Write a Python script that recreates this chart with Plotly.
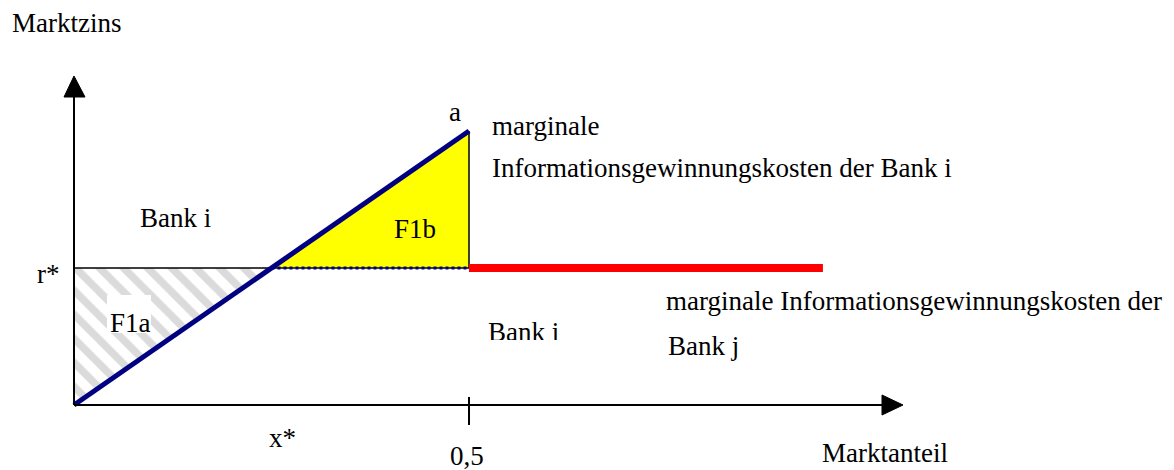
import plotly.graph_objects as go

# ---- model values (economic diagram) ----
x_star = 0.25          # x*
x_half = 0.5           # 0,5
x_red_end = 0.948      # end of the flat red cost line
r_star = 1.0           # r*
a_val = 2.0            # a

# blue line: marginal info cost bank i
blue_x = [0.0, x_half]
blue_y = [0.0, a_val]
# red line: marginal info cost bank j
red_x = [x_half, x_red_end]
red_y = [r_star, r_star]
# areas
f1a_x = [0.0, 0.0, x_star, 0.0]
f1a_y = [0.0, r_star, r_star, 0.0]
f1b_x = [x_star, x_half, x_half, x_star]
f1b_y = [r_star, a_val, r_star, r_star]

W, H = 1174, 470
OX, OY = 74, 405          # pixel of origin
SX, SY = 790, 137         # pixels per unit


def dx(px):
    return (px - OX) / SX


def dy(py):
    return (OY - py) / SY


SERIF = "Liberation Serif"
FS = 27

fig = go.Figure()

# hatched area F1a
fig.add_trace(go.Scatter(
    x=f1a_x, y=f1a_y, mode="lines", fill="toself",
    fillcolor="white", line=dict(width=0),
    fillpattern=dict(shape="\\", fgcolor="#b8b8b8", bgcolor="white",
                     size=17, solidity=0.45),
    hoverinfo="skip"))

# yellow area F1b
fig.add_trace(go.Scatter(
    x=f1b_x, y=f1b_y, mode="lines", fill="toself",
    fillcolor="#ffff00", line=dict(width=0), hoverinfo="skip"))

# thin black r* line
fig.add_trace(go.Scatter(x=[0.0, x_half], y=[r_star, r_star], mode="lines",
                         line=dict(color="black", width=1.5), hoverinfo="skip"))
# vertical black edge at 0,5
fig.add_trace(go.Scatter(x=[x_half, x_half], y=[r_star, a_val], mode="lines",
                         line=dict(color="black", width=1.5), hoverinfo="skip"))
# dotted blue lower edge of F1b
fig.add_trace(go.Scatter(x=[x_star, x_half], y=[r_star, r_star], mode="lines",
                         line=dict(color="#000080", width=3, dash="dot"),
                         hoverinfo="skip"))
# red line
fig.add_trace(go.Scatter(x=red_x, y=red_y, mode="lines",
                         line=dict(color="#ff0000", width=8), hoverinfo="skip"))
# blue line
fig.add_trace(go.Scatter(x=blue_x, y=blue_y, mode="lines",
                         line=dict(color="#000080", width=5), hoverinfo="skip"))

# axes
fig.add_trace(go.Scatter(x=[0.0, dx(884)], y=[0.0, 0.0], mode="lines",
                         line=dict(color="black", width=2), hoverinfo="skip"))
fig.add_trace(go.Scatter(x=[0.0, 0.0], y=[0.0, dy(95)], mode="lines",
                         line=dict(color="black", width=2), hoverinfo="skip"))
# arrow heads
fig.add_trace(go.Scatter(x=[dx(882), dx(903), dx(882), dx(882)],
                         y=[dy(395), 0.0, dy(415), dy(395)], mode="lines",
                         fill="toself", fillcolor="black",
                         line=dict(color="black", width=1), hoverinfo="skip"))
fig.add_trace(go.Scatter(x=[dx(64), 0.0, dx(85), dx(64)],
                         y=[dy(97), dy(76), dy(97), dy(97)], mode="lines",
                         fill="toself", fillcolor="black",
                         line=dict(color="black", width=1), hoverinfo="skip"))
# tick at 0,5
fig.add_trace(go.Scatter(x=[x_half, x_half], y=[dy(397), dy(425)], mode="lines",
                         line=dict(color="black", width=2), hoverinfo="skip"))

# lower "Bank i" as trace text (partially hidden below)
fig.add_trace(go.Scatter(x=[dx(488)], y=[dy(334)], mode="text",
                         text=["Bank i"], textposition="middle right",
                         textfont=dict(family=SERIF, size=FS, color="black"),
                         hoverinfo="skip"))

shapes = [
    # white box behind F1a
    dict(type="rect", xref="x", yref="y", x0=dx(107), x1=dx(151),
         y0=dy(333), y1=dy(295), fillcolor="white", line=dict(width=0),
         layer="above"),
    # white strip clipping lower "Bank i"
    dict(type="rect", xref="x", yref="y", x0=dx(484), x1=dx(570),
         y0=dy(354), y1=dy(340), fillcolor="white", line=dict(width=0),
         layer="above"),
]

labels = [
    ("Marktzins", 10, 23, "left"),
    ("a", 455, 112, "center"),
    ("marginale", 490, 126, "left"),
    ("Informationsgewinnungskosten der Bank i", 490, 168, "left"),
    ("Bank i", 138, 218, "left"),
    ("F1b", 415, 229, "center"),
    ("r*", 35, 274, "left"),
    ("F1a", 108, 323, "left"),
    ("marginale Informationsgewinnungskosten der", 664, 301, "left"),
    ("Bank j", 666, 346, "left"),
    ("x*", 267, 438, "left"),
    ("0,5", 448, 456, "left"),
    ("Marktanteil", 820, 453, "left"),
]
annotations = [
    dict(text=t, x=dx(px), y=dy(py), xref="x", yref="y", showarrow=False,
         xanchor=anc, yanchor="middle",
         font=dict(family=SERIF, size=FS, color="black"))
    for t, px, py, anc in labels
]

fig.update_layout(
    width=W, height=H,
    margin=dict(l=0, r=0, t=0, b=0),
    paper_bgcolor="white", plot_bgcolor="white",
    showlegend=False,
    xaxis=dict(range=[dx(0), dx(W)], visible=False, fixedrange=True),
    yaxis=dict(range=[dy(H), dy(0)], visible=False, fixedrange=True),
    shapes=shapes,
    annotations=annotations,
)

fig.write_html(
    "out.html",
    config={"displayModeBar": False},
    post_script="document.body.style.margin='0';document.body.style.overflow='hidden';",
)
